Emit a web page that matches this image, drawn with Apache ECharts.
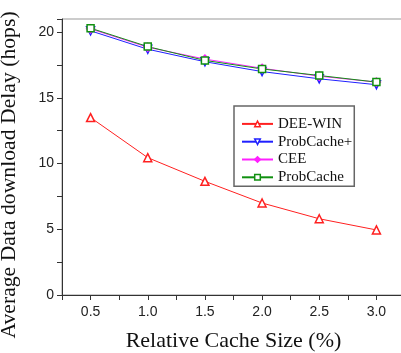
<!DOCTYPE html>
<html>
<head>
<meta charset="utf-8">
<script src="https://cdn.jsdelivr.net/npm/echarts@6/dist/echarts.min.js"></script>
<style>
html, body { margin: 0; padding: 0; background: #fff; }
#main { width: 401px; height: 353px; }
</style>
</head>
<body>
<div id="main"></div>
<script>
var cacheSize = [0.5, 1.0, 1.5, 2.0, 2.5, 3.0];
var deeWin = [13.5, 10.45, 8.65, 7.0, 5.8, 4.95];
var probCachePlus = [20.1, 18.7, 17.75, 17.0, 16.45, 16.0];
var cee = [20.25, 18.85, 17.95, 17.25, 16.65, 16.2];
var probCache = [20.3, 18.9, 17.85, 17.2, 16.7, 16.2];

function pairs(ys) {
	var r = [];
	for (var i = 0; i < cacheSize.length; i++) {
		r.push([cacheSize[i], ys[i]]);
	}
	return r;
}

function makeSeries(name, ys, color, symbol, size, rotate, filled) {
	return {
		name: name,
		type: 'line',
		data: pairs(ys),
		symbol: symbol,
		symbolSize: size,
		symbolRotate: rotate,
		showAllSymbol: true,
		lineStyle: { color: color, width: 1 },
		itemStyle: { color: filled ? color : '#fff', borderColor: color, borderWidth: 1.5 }
	};
}

function legendItem(name, color, filled) {
	return { name: name, itemStyle: { color: filled ? color : '#fff', borderColor: color, borderWidth: 1.5 } };
}

var chart = echarts.init(document.getElementById('main'));
var option = {
	animation: false,
	grid: {
		left: 62, top: 19, right: -4, bottom: 58,
		containLabel: false, outerBoundsMode: 'none',
		show: true, borderColor: '#999', borderWidth: 1
	},
	legend: {
		left: 234, top: 106, orient: 'vertical',
		padding: [9, 2, 0, 7],
		itemWidth: 31, itemHeight: 7, itemGap: 0,
		borderColor: '#666', borderWidth: 1.5,
		textStyle: { fontFamily: 'Liberation Serif', fontSize: 15, lineHeight: 17.8, color: '#111' },
		data: [
			legendItem('DEE-WIN', '#ff2020', false),
			legendItem('ProbCache+', '#2020ff', false),
			legendItem('CEE', '#ff20ff', true),
			legendItem('ProbCache', '#109010', false)
		]
	},
	xAxis: {
		type: 'value', min: 0.25, max: 3.25, interval: 0.25,
		name: 'Relative Cache Size (%)', nameLocation: 'middle', nameGap: 35,
		nameTextStyle: { fontFamily: 'Liberation Serif', fontSize: 22, color: '#111' },
		axisLine: { lineStyle: { color: '#333', width: 1 } },
		axisTick: { inside: false, length: 5, lineStyle: { color: '#333' } },
		splitLine: { show: false },
		axisLabel: {
			fontFamily: 'Liberation Sans', fontSize: 14, color: '#222', margin: 10,
			formatter: function (v) {
				return Math.abs(v * 2 - Math.round(v * 2)) < 1e-6 ? v.toFixed(1) : '';
			}
		}
	},
	yAxis: {
		type: 'value', min: 0, max: 21, interval: 2.5,
		name: 'Average Data download Delay (hops)', nameLocation: 'middle', nameGap: 42,
		nameTextStyle: { fontFamily: 'Liberation Serif', fontSize: 21.7, color: '#111', padding: [0, 36, 0, 0] },
		axisLine: { show: true, lineStyle: { color: '#333', width: 1 } },
		axisTick: { show: true, length: 5, lineStyle: { color: '#333' } },
		splitLine: { show: false },
		axisLabel: {
			fontFamily: 'Liberation Sans', fontSize: 14, color: '#222', margin: 8,
			formatter: function (v) {
				return v % 5 === 0 && v <= 20 ? String(v) : '';
			}
		}
	},
	series: [
		makeSeries('DEE-WIN', deeWin, '#ff2020', 'triangle', 8, 0, false),
		makeSeries('ProbCache+', probCachePlus, '#2020ff', 'triangle', 8, 180, false),
		makeSeries('CEE', cee, '#ff20ff', 'diamond', 8, 0, true),
		makeSeries('ProbCache', probCache, '#109010', 'rect', 7, 0, false)
	]
};
chart.setOption(option);
</script>
</body>
</html>
